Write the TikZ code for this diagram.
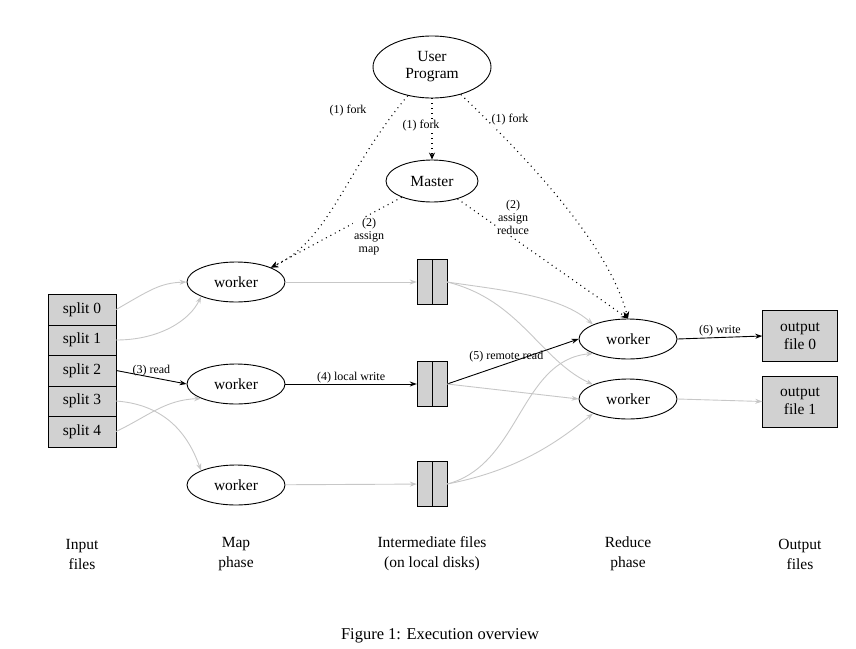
\documentclass[tikz,border=0pt]{standalone}
\usepackage{fontspec}
\setmainfont{Liberation Serif}
\usetikzlibrary{shapes.geometric,arrows.meta}
\begin{document}
\begin{tikzpicture}[x=1pt,y=-1pt,
  ell/.style={draw,ellipse,line width=0.9pt,minimum width=98pt,minimum height=40pt,inner sep=0pt,font=\fontsize{15.5}{17}\selectfont,align=center},
  box/.style={draw,fill=black!18,minimum width=68pt,minimum height=30.5pt,inner sep=0pt,font=\fontsize{15.5}{17}\selectfont,align=center},
  file/.style={draw,fill=black!18,minimum width=30pt,minimum height=45pt,inner sep=0pt},
  outb/.style={draw,fill=black!18,minimum width=75pt,minimum height=51pt,inner sep=0pt,font=\fontsize{15.5}{18}\selectfont,align=center},
  lbl/.style={font=\fontsize{12}{13}\selectfont,align=center,inner sep=1pt},
  captxt/.style={font=\fontsize{15.5}{20}\selectfont,align=center},
  gr/.style={draw=black!22,line width=0.9pt,-{Stealth[length=7pt,width=5pt]}},
  bk/.style={draw=black,line width=0.9pt,-{Stealth[length=7pt,width=5pt]}},
  dt/.style={draw=black,line width=1.1pt,dash pattern=on 1pt off 4pt,-{Stealth[length=7pt,width=6pt]}}]
\useasboundingbox (0,0) rectangle (856,648);
\node[ell,minimum width=118pt,minimum height=62pt] (up) at (432,67) {User\\Program};
\node[ell,minimum width=92pt,minimum height=42pt] (ma) at (432,181) {Master};
\node[ell] (m0) at (236,282) {worker};
\node[ell] (m1) at (236,384) {worker};
\node[ell] (m2) at (236,485) {worker};
\node[ell] (r0) at (628,339) {worker};
\node[ell] (r1) at (628,399) {worker};
\node[box] (s0) at (82,309.5) {split 0};
\node[box] (s1) at (82,340) {split 1};
\node[box] (s2) at (82,370.5) {split 2};
\node[box] (s3) at (82,401) {split 3};
\node[box] (s4) at (82,431.5) {split 4};
\foreach \i/\y in {0/282,1/384,2/484}{
  \node[file] (f\i) at (432,\y) {};
  \draw (432,\y-22.5) -- (432,\y+22.5);
}
\node[outb] (o0) at (800,336) {output\\file 0};
\node[outb] (o1) at (800,401.5) {output\\file 1};
% dotted
\draw[dt] (up) .. controls (345,170) and (330,240) .. (m0.north east);
\node[lbl,fill=white] at (348,111) {(1) fork};
\draw[dt] (up) -- (ma);
\node[lbl,fill=white] at (421,126) {(1) fork};
\draw[dt] (up) .. controls (540,170) and (610,250) .. (r0.north);
\node[lbl,fill=white] at (510,120) {(1) fork};
\draw[dt] (ma) -- (m0.north east);
\node[lbl,fill=white] at (369,237) {(2)\\assign\\map};
\draw[dt] (ma) -- (r0.north);
\node[lbl,fill=white] at (513,217) {(2)\\assign\\reduce};
% input
\draw[gr] (s0.east) .. controls (150,290) and (160,283) .. (m0.west);
\draw[gr] (s1.east) .. controls (160,340) and (190,320) .. (m0.south west);
\draw[bk] (s2.east) -- (m1.west) node[lbl,midway,above] {(3) read};
\draw[gr] (s4.east) .. controls (150,415) and (165,400) .. (m1.south west);
\draw[gr] (s3.east) .. controls (170,405) and (190,440) .. (m2.north west);
% local write
\draw[gr] (m0) -- (f0);
\draw[bk] (m1) -- (f1) node[lbl,midway,above] {(4) local write};
\draw[gr] (m2) -- (f2);
% remote read
\draw[gr] (f0.east) .. controls (500,290) and (560,295) .. (r0.north west);
\draw[gr] (f0.east) .. controls (520,300) and (540,360) .. (r1.north west);
\draw[bk] (f1.east) -- (r0.west) node[lbl,pos=0.45,above] {(5) remote read};
\draw[gr] (f1.east) -- (r1.west);
\draw[gr] (f2.east) .. controls (520,465) and (520,360) .. (r0.south west);
\draw[gr] (f2.east) .. controls (520,470) and (560,440) .. (r1.south west);
% output
\draw[bk] (r0.east) -- (o0.west) node[lbl,midway,above] {(6) write};
\draw[gr] (r1.east) -- (o1.west);
% captions
\node[captxt] at (82,554) {Input\\files};
\node[captxt] at (236,554) {Map\\phase};
\node[captxt] at (432,554) {Intermediate files\\(on local disks)};
\node[captxt] at (628,554) {Reduce\\phase};
\node[captxt] at (800,554) {Output\\files};
\node[captxt,font=\fontsize{16.5}{18}\selectfont] at (440,636) {Figure 1: Execution overview};
\end{tikzpicture}
\end{document}
